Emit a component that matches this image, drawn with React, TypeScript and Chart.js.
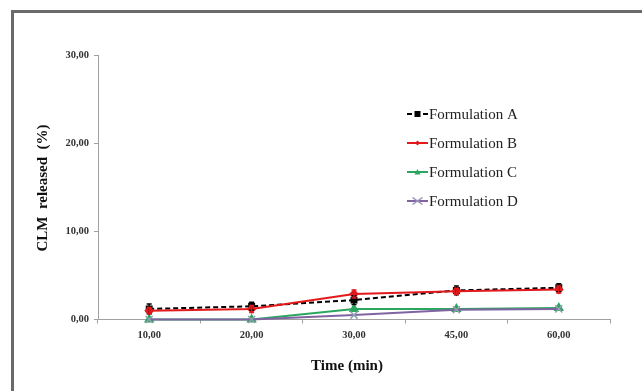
import React, { useEffect, useRef } from "react";
import { Chart, registerables } from "chart.js";

Chart.register(...registerables);

const timeLabels = ["10,00", "20,00", "30,00", "45,00", "60,00"];
const formA = [1.2, 1.5, 2.2, 3.3, 3.6];
const errA = [0.55, 0.45, 0.5, 0.5, 0.45];
const formB = [1.0, 1.2, 2.9, 3.2, 3.4];
const errB = [0.35, 0.4, 0.45, 0.35, 0.4];
const formC = [0, 0, 1.2, 1.2, 1.3];
const formD = [0, 0, 0.5, 1.1, 1.2];
const seriesNames = ["Formulation A", "Formulation B", "Formulation C", "Formulation D"];
const yTicks = [0, 10, 20, 30];

const SERIF = '"Liberation Serif", "Times New Roman", serif';

const framePlugin = {
  id: "frame",
  beforeDraw(chart: any) {
    const ctx = chart.ctx;
    ctx.save();
    ctx.fillStyle = "#ffffff";
    ctx.fillRect(0, 0, chart.width, chart.height);
    ctx.strokeStyle = "#6a6a6a";
    ctx.lineWidth = 3;
    ctx.strokeRect(12.5, 11.5, 800, 600);
    ctx.restore();
  },
};

const errorBarPlugin = {
  id: "errorBars",
  afterDatasetsDraw(chart: any) {
    const ctx = chart.ctx;
    const y = chart.scales.y;
    chart.data.datasets.forEach((ds: any, i: number) => {
      if (!ds.errors) return;
      const meta = chart.getDatasetMeta(i);
      ctx.save();
      ctx.strokeStyle = ds.borderColor;
      ctx.lineWidth = 1.5;
      meta.data.forEach((pt: any, j: number) => {
        const v = ds.data[j];
        const e = ds.errors[j];
        const top = y.getPixelForValue(v + e);
        const bot = y.getPixelForValue(v - e);
        ctx.beginPath();
        ctx.moveTo(pt.x, top);
        ctx.lineTo(pt.x, bot);
        ctx.moveTo(pt.x - 2.5, top);
        ctx.lineTo(pt.x + 2.5, top);
        ctx.moveTo(pt.x - 2.5, bot);
        ctx.lineTo(pt.x + 2.5, bot);
        ctx.stroke();
      });
      ctx.restore();
    });
  },
};

function drawMarker(ctx: any, style: string, x: number, y: number, r: number, color: string) {
  ctx.save();
  ctx.fillStyle = color;
  ctx.strokeStyle = color;
  ctx.lineWidth = 1.5;
  ctx.beginPath();
  if (style === "rect") {
    ctx.fillRect(x - r, y - r, 2 * r, 2 * r);
  } else if (style === "rectRot") {
    ctx.moveTo(x, y - r);
    ctx.lineTo(x + r, y);
    ctx.lineTo(x, y + r);
    ctx.lineTo(x - r, y);
    ctx.closePath();
    ctx.fill();
  } else if (style === "triangle") {
    ctx.moveTo(x, y - r);
    ctx.lineTo(x + r, y + r * 0.8);
    ctx.lineTo(x - r, y + r * 0.8);
    ctx.closePath();
    ctx.fill();
  } else if (style === "crossRot") {
    ctx.moveTo(x - r, y - r * 0.7);
    ctx.lineTo(x + r, y + r * 0.7);
    ctx.moveTo(x - r, y + r * 0.7);
    ctx.lineTo(x + r, y - r * 0.7);
    ctx.stroke();
  }
  ctx.restore();
}

const legendTitlesPlugin = {
  id: "legendTitles",
  afterDraw(chart: any) {
    const ctx = chart.ctx;
    const rows = [114, 143, 172, 201];
    chart.data.datasets.forEach((ds: any, i: number) => {
      const yy = rows[i];
      ctx.save();
      ctx.strokeStyle = ds.borderColor;
      ctx.lineWidth = 2;
      ctx.setLineDash(ds.borderDash || []);
      ctx.beginPath();
      ctx.moveTo(407, yy);
      ctx.lineTo(428, yy);
      ctx.stroke();
      ctx.setLineDash([]);
      ctx.restore();
      drawMarker(ctx, ds.pointStyle, 417.5, yy, ds.legendR, ds.pointBackgroundColor);
      ctx.save();
      ctx.fillStyle = "#222222";
      ctx.font = `15px ${SERIF}`;
      ctx.textAlign = "left";
      ctx.textBaseline = "middle";
      ctx.fillText(ds.label, 429, yy + 1);
      ctx.restore();
    });
    // axis titles
    ctx.save();
    ctx.fillStyle = "#111111";
    ctx.font = `bold 15px ${SERIF}`;
    ctx.textAlign = "center";
    ctx.textBaseline = "middle";
    ctx.fillText("Time (min)", 347, 366);
    ctx.translate(43, 188);
    ctx.rotate(-Math.PI / 2);
    ctx.fillText("CLM  released  (%)", 0, 0);
    ctx.restore();
  },
};

export default function App() {
  const ref = useRef<HTMLCanvasElement | null>(null);
  useEffect(() => {
    if (!ref.current) return;
    const chart = new Chart(ref.current, {
      type: "line",
      data: {
        labels: timeLabels,
        datasets: [
          {
            label: seriesNames[0],
            data: formA,
            errors: errA,
            borderColor: "#000000",
            backgroundColor: "#000000",
            pointBackgroundColor: "#000000",
            pointBorderColor: "#000000",
            borderDash: [5, 3],
            borderWidth: 2,
            pointStyle: "rect",
            pointRadius: 3.5,
            legendR: 3,
            order: 2,
          } as any,
          {
            label: seriesNames[1],
            data: formB,
            errors: errB,
            borderColor: "#e3191c",
            backgroundColor: "#e3191c",
            pointBackgroundColor: "#e3191c",
            pointBorderColor: "#e3191c",
            borderWidth: 2,
            pointStyle: "rectRot",
            pointRadius: 3.5,
            legendR: 2.5,
            order: 1,
          } as any,
          {
            label: seriesNames[2],
            data: formC,
            borderColor: "#2aa65e",
            backgroundColor: "#2aa65e",
            pointBackgroundColor: "#2aa65e",
            pointBorderColor: "#2aa65e",
            borderWidth: 2,
            pointStyle: "triangle",
            pointRadius: 4,
            legendR: 3,
            order: 4,
          } as any,
          {
            label: seriesNames[3],
            data: formD,
            borderColor: "#8064a2",
            backgroundColor: "#8064a2",
            pointBackgroundColor: "#9a8fb8",
            pointBorderColor: "#8fa0b0",
            borderWidth: 2,
            pointStyle: "crossRot",
            pointRadius: 5,
            pointBorderWidth: 1.5,
            legendR: 5,
            order: 3,
          } as any,
        ],
      },
      options: {
        animation: false,
        responsive: false,
        devicePixelRatio: 1,
        clip: false as any,
        layout: { padding: { left: 0, top: 55, right: 32, bottom: 0 } },
        plugins: { legend: { display: false }, tooltip: { enabled: false } },
        scales: {
          x: {
            type: "category",
            offset: true,
            grid: {
              offset: true,
              drawOnChartArea: false,
              drawTicks: true,
              tickLength: 4,
              color: "#a0a0a0",
            },
            border: { color: "#a0a0a0", width: 1 },
            ticks: {
              font: { family: SERIF, size: 10.5, weight: "bold" },
              color: "#333333",
              padding: 5,
              maxRotation: 0,
            },
            afterFit(scale: any) {
              scale.height = 71.5;
            },
          },
          y: {
            min: 0,
            max: 30,
            afterBuildTicks(scale: any) {
              scale.ticks = yTicks.map((v) => ({ value: v }));
            },
            grid: {
              drawOnChartArea: false,
              drawTicks: true,
              tickLength: 4,
              color: "#a0a0a0",
            },
            border: { color: "#a0a0a0", width: 1 },
            ticks: {
              font: { family: SERIF, size: 10.5, weight: "bold" },
              color: "#333333",
              padding: 5,
              callback: (v: any) => Number(v).toFixed(2).replace(".", ","),
            },
            afterFit(scale: any) {
              scale.width = 98;
            },
          },
        },
      } as any,
      plugins: [framePlugin, errorBarPlugin, legendTitlesPlugin],
    });
    return () => chart.destroy();
  }, []);
  return (
    <div style={{ position: "fixed", left: 0, top: 0, width: 642, height: 391, background: "#fff" }}>
      <canvas ref={ref} width={642} height={391} style={{ width: 642, height: 391, display: "block" }} />
    </div>
  );
}
